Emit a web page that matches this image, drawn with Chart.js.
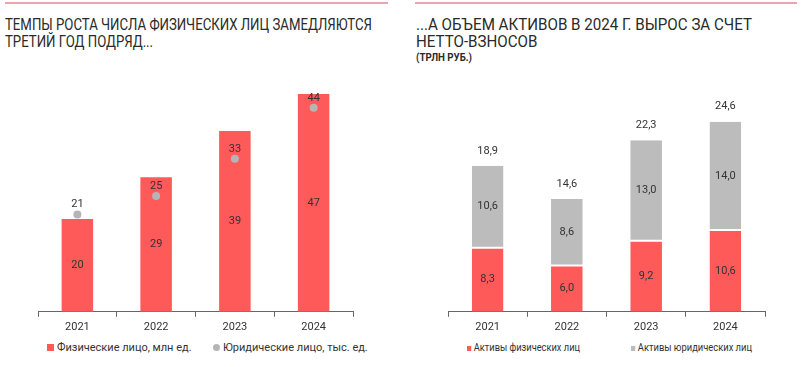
<!DOCTYPE html>
<html>
<head>
<meta charset="utf-8">
<script src="https://cdn.jsdelivr.net/npm/chart.js@4.4.1/dist/chart.umd.min.js"></script>
<style>
  body { margin: 0; background: #fff; width: 801px; height: 367px; position: relative; overflow: hidden;
         font-family: Roboto, "Noto Sans", sans-serif; color: #2a2a2a; }
  .rule { position: absolute; top: 2px; height: 2px; background: #e9a5ad; }
  .title { position: absolute; top: 16px; font-size: 16px; line-height: 17px; white-space: nowrap; transform-origin: 0 0; }
  .sub { position: absolute; left: 416px; top: 52px; font-size: 10px; font-weight: bold; white-space: nowrap; transform-origin: 0 0; }
  .box { position: absolute; top: 60px; height: 280px; }
  .legend { position: absolute; top: 341px; font-size: 11px; color: #333; white-space: nowrap; }
  .legend span { position: absolute; transform-origin: 0 0; }
  .mk { display: inline-block; margin-right: 3px; vertical-align: 0px; }
</style>
</head>
<body>
<div class="rule" style="left:5px;width:383px"></div>
<div class="rule" style="left:415px;width:382px"></div>
<div class="title" id="t1" style="left:5px">ТЕМПЫ РОСТА ЧИСЛА ФИЗИЧЕСКИХ ЛИЦ ЗАМЕДЛЯЮТСЯ<br>ТРЕТИЙ ГОД ПОДРЯД...</div>
<div class="title" id="t2" style="left:416px">...А ОБЪЕМ АКТИВОВ В 2024 Г. ВЫРОС ЗА СЧЕТ<br>НЕТТО-ВЗНОСОВ</div>
<div class="sub" id="t3">(ТРЛН РУБ.)</div>

<div class="box" style="left:0;width:400px"><canvas id="left"></canvas></div>
<div class="box" style="left:400px;width:401px"><canvas id="right"></canvas></div>

<div class="legend" id="legLeft"></div>
<div class="legend" id="legRight"></div>

<script>
const FONT = 'Roboto, "Noto Sans", sans-serif';
const RED = "#ff5a5a";
const GREY = "#bcbcbc";

// левый график
const years = ["2021", "2022", "2023", "2024"];
const fizLica = [20, 29, 39, 47];     // млн ед.
const yurLica = [21, 25, 33, 44];     // тыс. ед.

// правый график, трлн руб.
const aktivyFiz = [8.3, 6.0, 9.2, 10.6];
const aktivyYur = [10.6, 8.6, 13.0, 14.0];
const aktivyTotal = [18.9, 14.6, 22.3, 24.6];

const fmt = v => v.toFixed(1).replace(".", ",");

// текст сжимаем до ширины из макета
function fitWidth(el, w) {
  el.style.transform = "none";
  const real = el.getBoundingClientRect().width;
  el.style.transform = "scaleX(" + (w / real) + ")";
}

// подписи значений поверх столбцов и точек
const valueLabels = {
  id: "valueLabels",
  afterDatasetsDraw(chart) {
    const ctx = chart.ctx;
    ctx.save();
    ctx.font = "11px " + FONT;
    ctx.fillStyle = "#333";
    ctx.textAlign = "center";
    ctx.textBaseline = "middle";
    chart.data.datasets.forEach((ds, i) => {
      const meta = chart.getDatasetMeta(i);
      meta.data.forEach((el, j) => {
        const v = ds.data[j];
        const txt = ds.fmt ? ds.fmt(v) : String(v);
        if (meta.type === "bar") {
          ctx.fillText(txt, el.x, (el.y + el.base) / 2);
        } else {
          ctx.fillText(txt, el.x, el.y - 10);
        }
      });
    });
    const tot = chart.options.plugins.valueLabels.totals;
    if (tot) {
      const top = chart.getDatasetMeta(chart.data.datasets.length - 1);
      top.data.forEach((el, j) => ctx.fillText(fmt(tot[j]), el.x, el.y - 15));
    }
    ctx.restore();
  }
};

function xAxis() {
  return {
    grid: { display: true, drawOnChartArea: false, drawTicks: true, tickLength: 5, color: "#666", offset: true },
    border: { display: true, color: "#666" },
    ticks: { color: "#333", font: { family: FONT, size: 11 }, padding: 4 }
  };
}

new Chart(document.getElementById("left"), {
  data: {
    labels: years,
    datasets: [
      { type: "bar", label: "Физические лицо, млн ед.", data: fizLica, backgroundColor: RED,
        barPercentage: 0.5, categoryPercentage: 0.8, order: 1 },
      { type: "line", label: "Юридические лицо, тыс. ед.", data: yurLica, showLine: false,
        pointRadius: 4, pointBackgroundColor: "#b5b5b5", pointBorderWidth: 0, order: 0 }
    ]
  },
  options: {
    responsive: true, maintainAspectRatio: false, animation: false,
    layout: { padding: { left: 38, right: 47, top: 20, bottom: 2 } },
    scales: {
      x: xAxis(),
      y: { display: false, min: 0, max: 50 }
    },
    plugins: { legend: { display: false }, tooltip: { enabled: false }, valueLabels: {} }
  },
  plugins: [valueLabels]
});

new Chart(document.getElementById("right"), {
  type: "bar",
  data: {
    labels: years,
    datasets: [
      { label: "Активы физических лиц", data: aktivyFiz, backgroundColor: RED, fmt,
        borderColor: "#fff", borderWidth: { top: 1 }, borderSkipped: false },
      { label: "Активы юридических лиц", data: aktivyYur, backgroundColor: GREY, fmt,
        borderColor: "#fff", borderWidth: { bottom: 1 }, borderSkipped: false }
    ]
  },
  options: {
    responsive: true, maintainAspectRatio: false, animation: false,
    datasets: { bar: { barPercentage: 0.5, categoryPercentage: 0.8 } },
    layout: { padding: { left: 48, right: 36, top: 20, bottom: 2 } },
    scales: {
      x: Object.assign(xAxis(), { stacked: true }),
      y: { display: false, stacked: true, min: 0, max: 30 }
    },
    plugins: { legend: { display: false }, tooltip: { enabled: false }, valueLabels: { totals: aktivyTotal } }
  },
  plugins: [valueLabels]
});

// легенды
document.getElementById("legLeft").innerHTML =
  '<span style="left:47px"><i class="mk" style="width:7px;height:7px;background:' + RED + '"></i>Физические лицо, млн ед.</span>' +
  '<span style="left:213px"><i class="mk" style="width:7px;height:7px;border-radius:50%;background:#b5b5b5"></i>Юридические лицо, тыс. ед.</span>';
document.getElementById("legRight").innerHTML =
  '<span id="lr1" style="left:467px"><i class="mk" style="width:5px;height:5px;background:' + RED + '"></i>Активы физических лиц</span>' +
  '<span id="lr2" style="left:631px"><i class="mk" style="width:5px;height:5px;background:' + GREY + '"></i>Активы юридических лиц</span>';

fitWidth(document.getElementById("t1"), 367);
fitWidth(document.getElementById("t2"), 336);
fitWidth(document.getElementById("t3"), 56);
fitWidth(document.getElementById("lr1"), 113);
fitWidth(document.getElementById("lr2"), 121);
</script>
</body>
</html>
